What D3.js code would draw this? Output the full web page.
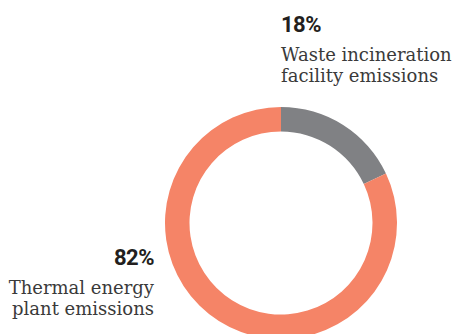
<!DOCTYPE html>
<html>
<head>
<meta charset="utf-8">
<script src="https://cdn.jsdelivr.net/npm/d3@7"></script>
<style>
  body { margin: 0; background: #fff; }
  svg { display: block; }
</style>
</head>
<body>
<div id="chart"></div>
<script>
// data
var categories = ["Waste incineration facility emissions", "Thermal energy plant emissions"];
var shares = [18, 82];
var pctLabels = ["18%", "82%"];
var descLines = [
  ["Waste incineration", "facility emissions"],
  ["Thermal energy", "plant emissions"]
];
var colors = ["#808184", "#f58467"];

var w = 455, h = 334;
var cx = 281, cy = 223;
var outerR = 116, innerR = 91.5;

var svg = d3.select("#chart").append("svg")
    .attr("width", w)
    .attr("height", h);

var pie = d3.pie()
    .sort(null)
    .value(function(d) { return d; });

var arc = d3.arc()
    .innerRadius(innerR)
    .outerRadius(outerR);

var g = svg.append("g")
    .attr("transform", "translate(" + cx + "," + cy + ")");

g.selectAll("path")
    .data(pie(shares))
    .enter().append("path")
    .attr("d", arc)
    .attr("fill", function(d, i) { return colors[i]; });

// labels
var labelPos = [
  { x: 281, y: 32, anchor: "start" },
  { x: 154, y: 265, anchor: "end" }
];

categories.forEach(function(c, i) {
  var p = labelPos[i];
  svg.append("text")
      .attr("x", p.x)
      .attr("y", p.y)
      .attr("text-anchor", p.anchor)
      .style("font-family", "Roboto, sans-serif")
      .style("font-weight", "bold")
      .style("font-size", "22px")
      .style("letter-spacing", "-0.5px")
      .style("fill", "#231f20")
      .text(pctLabels[i]);

  descLines[i].forEach(function(line, j) {
    svg.append("text")
        .attr("x", p.x)
        .attr("y", p.y + 29 + j * 21)
        .attr("text-anchor", p.anchor)
        .style("font-family", "'DejaVu Serif', serif")
        .style("font-size", "18px")
        .style("fill", "#3a3a3a")
        .text(line);
  });
});
</script>
</body>
</html>
